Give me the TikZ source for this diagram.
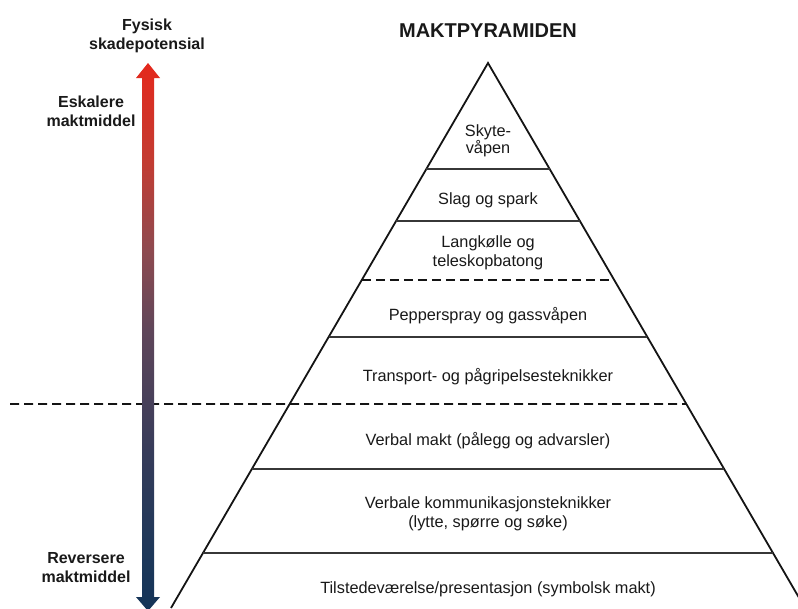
\documentclass[tikz,border=0pt]{standalone}
\usepackage{fontspec}
\setmainfont{Liberation Sans}
\usetikzlibrary{calc}
\definecolor{txt}{RGB}{25,25,25}
\definecolor{linec}{RGB}{20,20,20}
\definecolor{navyc}{RGB}{20,52,88}
\definecolor{cA}{RGB}{30,56,90}
\definecolor{cB}{RGB}{55,60,90}
\definecolor{cC}{RGB}{95,70,90}
\definecolor{cD}{RGB}{142,74,80}
\definecolor{cE}{RGB}{195,60,50}
\definecolor{redc}{RGB}{228,40,28}
\pgfdeclareverticalshading{arrowgrad}{100bp}{color(0bp)=(navyc); color(25bp)=(navyc); color(30.6bp)=(cA); color(39.7bp)=(cB); color(50.6bp)=(cC); color(57.9bp)=(cD); color(66.1bp)=(cE); color(75bp)=(redc); color(100bp)=(redc)}
\tikzset{
  lbl/.style={font=\fontsize{16.3}{19}\selectfont, text=txt, inner sep=0pt, align=center},
  blbl/.style={font=\bfseries\fontsize{16}{19}\selectfont, text=txt, inner sep=0pt, align=center},
  edge/.style={draw=linec, line width=1.8pt, line join=miter},
  sep/.style={draw=linec!85!white, line width=1.8pt},
  dsep/.style={draw=linec, line width=1.8pt, dash pattern=on 9pt off 5pt},
}
\begin{document}
\begin{tikzpicture}[x=1pt,y=-1pt]
\useasboundingbox (0,0) rectangle (798,608);
% pyramid corners
\coordinate (A) at (488,63);
\coordinate (BL) at (171,608);
\coordinate (BR) at (805,608);
\draw[edge] (BL) -- (A) -- (BR);
% level lines
\foreach \t/\n in {0.19450/l1,0.28991/l2,0.39817/l3,0.50275/l4,0.62569/l5,0.74495/l6,0.89908/l7}{
  \coordinate (\n L) at ($(A)!\t!(BL)$);
  \coordinate (\n R) at ($(A)!\t!(BR)$);
}
\coordinate (dashstart) at (10,404);
\draw[sep] (l1L) -- (l1R);
\draw[sep] (l2L) -- (l2R);
\draw[dsep] (l3L) -- (l3R);
\draw[sep] (l4L) -- (l4R);
\draw[dsep] (dashstart) -- (l5R);
\draw[sep] (l6L) -- (l6R);
\draw[sep] (l7L) -- (l7R);
% gradient double arrow (on top of the dashed line)
\shade[shading=arrowgrad] (142,78) -- (136,78) -- (148,63) -- (160,78) -- (154,78) -- (154,597) -- (160,597) -- (148,611) -- (136,597) -- (142,597) -- cycle;
% titles
\node[anchor=base, font=\bfseries\fontsize{20}{23}\selectfont, text=txt, inner sep=0pt] (title) at (488,37) {MAKTPYRAMIDEN};
\node[blbl, anchor=north] (fys) at (147,18.5) {Fysisk\\skadepotensial};
\node[blbl, anchor=north] (esk) at (91,95.5) {Eskalere\\maktmiddel};
\node[blbl, anchor=north] (rev) at (86,552.5) {Reversere\\maktmiddel};
% level texts
\node[lbl, anchor=north, font=\fontsize{16.3}{17.5}\selectfont] (t1) at (488,124) {Skyte-\\våpen};
\node[lbl, anchor=base] (t2) at (488,204) {Slag og spark};
\node[lbl, anchor=north] (t3) at (488,235.5) {Langkølle og\\teleskopbatong};
\node[lbl, anchor=base] (t4) at (488,320) {Pepperspray og gassvåpen};
\node[lbl, anchor=base] (t5) at (488,381) {Transport- og pågripelsesteknikker};
\node[lbl, anchor=base] (t6) at (488,445) {Verbal makt (pålegg og advarsler)};
\node[lbl, anchor=north] (t7) at (488,496.5) {Verbale kommunikasjonsteknikker\\(lytte, spørre og søke)};
\node[lbl, anchor=base] (t8) at (488,593) {Tilstedeværelse/presentasjon (symbolsk makt)};
\end{tikzpicture}
\end{document}
